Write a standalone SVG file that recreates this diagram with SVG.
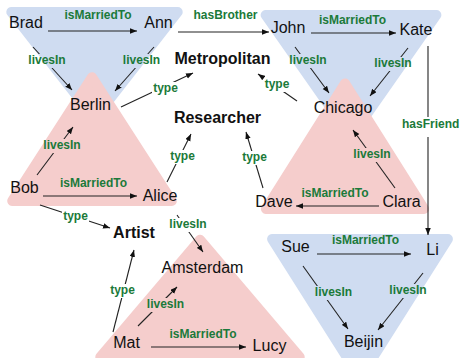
<svg xmlns="http://www.w3.org/2000/svg" width="460" height="358" viewBox="0 0 460 358">
<style>
.blue{fill:#cfdcf1;stroke:#cfdcf1;stroke-width:10;stroke-linejoin:round}
.red{fill:#f5cdcc;stroke:#f5cdcc;stroke-width:10;stroke-linejoin:round}
.node{font-family:"Liberation Sans",Arial,Helvetica,sans-serif;font-size:16px;fill:#111;text-anchor:middle}
.cls{font-family:"Liberation Sans",Arial,Helvetica,sans-serif;font-size:16px;font-weight:bold;fill:#111;text-anchor:middle}
.lbl{font-family:"Liberation Sans",Arial,Helvetica,sans-serif;font-size:12px;font-weight:bold;fill:#1b7a3a;text-anchor:middle}
.edge{stroke:#222;stroke-width:1.1;fill:none;marker-end:url(#arrow)}
</style>
<defs>
<marker id="arrow" markerUnits="userSpaceOnUse" markerWidth="8" markerHeight="6" refX="7" refY="2.75" orient="auto">
<path d="M0,0 L7,2.75 L0,5.5 z" fill="#111"/>
</marker>
<mask id="labelGaps" maskUnits="userSpaceOnUse" x="0" y="0" width="460" height="358">
<rect x="0" y="0" width="460" height="358" fill="#fff"/>
<g fill="#000">
<rect x="27" y="54" width="40" height="14"/>
<rect x="122" y="54" width="39" height="14"/>
<rect x="152" y="82" width="27" height="14"/>
<rect x="288" y="54" width="40" height="14"/>
<rect x="373" y="57" width="40" height="14"/>
<rect x="264" y="78" width="26" height="14"/>
<rect x="401" y="117" width="62" height="20"/>
<rect x="42" y="139" width="40" height="14"/>
<rect x="62" y="210" width="27" height="14"/>
<rect x="168" y="218" width="40" height="14"/>
<rect x="169" y="150" width="27" height="14"/>
<rect x="241" y="151" width="27" height="14"/>
<rect x="352" y="148" width="40" height="14"/>
<rect x="109" y="284" width="27" height="14"/>
<rect x="146" y="298" width="39" height="14"/>
<rect x="314" y="286" width="39" height="14"/>
<rect x="388" y="284" width="40" height="14"/>
</g>
</mask>
</defs>
<rect width="460" height="358" fill="#fff"/>
<g id="regions">
<polygon id="region-blue-tl" class="blue" points="11.3,12 177.7,12 94.5,118.7"/>
<polygon id="region-blue-tr" class="blue" points="265.6,15 436.4,15 351,137"/>
<polygon id="region-blue-br" class="blue" points="272.1,239 447.9,239 360,378"/>
<polygon id="region-red-tl" class="red" points="92,77.2 12.2,201 171.8,201"/>
<polygon id="region-red-tr" class="red" points="345,83.4 265.9,209 424.1,209"/>
<polygon id="region-red-b" class="red" points="200,239.7 100.3,357 299.7,357"/>
</g>
<g id="connectors" mask="url(#labelGaps)">
<line class="edge" x1="48" y1="31" x2="137" y2="31"/>
<line class="edge" x1="178" y1="32" x2="269" y2="32"/>
<line class="edge" x1="311" y1="33" x2="396" y2="33"/>
<line class="edge" x1="33" y1="47" x2="72" y2="90"/>
<line class="edge" x1="154" y1="47" x2="115" y2="91"/>
<line class="edge" x1="121" y1="107" x2="193" y2="73"/>
<line class="edge" x1="295" y1="47" x2="329" y2="93"/>
<line class="edge" x1="408" y1="48" x2="370" y2="96"/>
<line class="edge" x1="297" y1="101" x2="258" y2="74"/>
<line class="edge" x1="428" y1="46" x2="428" y2="235"/>
<line class="edge" x1="37" y1="175" x2="73" y2="127"/>
<line class="edge" x1="43" y1="196" x2="137" y2="196"/>
<line class="edge" x1="40" y1="205" x2="110" y2="228"/>
<line class="edge" x1="167" y1="182" x2="191" y2="134"/>
<line class="edge" x1="177" y1="215" x2="203" y2="252"/>
<line class="edge" x1="263" y1="188" x2="246" y2="132"/>
<line class="edge" x1="395" y1="188" x2="353" y2="130"/>
<line class="edge" x1="379" y1="206" x2="296" y2="206"/>
<line class="edge" x1="113" y1="332" x2="134" y2="250"/>
<line class="edge" x1="138" y1="326" x2="177" y2="287"/>
<line class="edge" x1="151" y1="347" x2="246" y2="347"/>
<line class="edge" x1="317" y1="254" x2="411" y2="254"/>
<line class="edge" x1="303" y1="266" x2="348" y2="329"/>
<line class="edge" x1="423" y1="273" x2="378" y2="330"/>
</g>
<g id="edge-labels">
<text class="lbl" x="98" y="19">isMarriedTo</text>
<text class="lbl" x="225.5" y="19">hasBrother</text>
<text class="lbl" x="352.5" y="24">isMarriedTo</text>
<text class="lbl" x="47" y="64">livesIn</text>
<text class="lbl" x="141.5" y="64">livesIn</text>
<text class="lbl" x="165.5" y="92">type</text>
<text class="lbl" x="308" y="64">livesIn</text>
<text class="lbl" x="393" y="67">livesIn</text>
<text class="lbl" x="277" y="88">type</text>
<text class="lbl" x="402" y="128" style="text-anchor:start">hasFriend</text>
<text class="lbl" x="62" y="149">livesIn</text>
<text class="lbl" x="93.5" y="187">isMarriedTo</text>
<text class="lbl" x="75.5" y="220">type</text>
<text class="lbl" x="188" y="228">livesIn</text>
<text class="lbl" x="182.5" y="160">type</text>
<text class="lbl" x="254.5" y="161">type</text>
<text class="lbl" x="372" y="158">livesIn</text>
<text class="lbl" x="335" y="197">isMarriedTo</text>
<text class="lbl" x="122.5" y="294">type</text>
<text class="lbl" x="165.5" y="308">livesIn</text>
<text class="lbl" x="203" y="338">isMarriedTo</text>
<text class="lbl" x="365.5" y="244">isMarriedTo</text>
<text class="lbl" x="333.5" y="296">livesIn</text>
<text class="lbl" x="408" y="294">livesIn</text>
</g>
<g id="node-brad"><text class="node" x="26" y="28">Brad</text></g>
<g id="node-ann"><text class="node" x="158.5" y="28">Ann</text></g>
<g id="node-john"><text class="node" x="288" y="33">John</text></g>
<g id="node-kate"><text class="node" x="416" y="35">Kate</text></g>
<g id="node-metropolitan"><text class="cls" x="222.5" y="64">Metropolitan</text></g>
<g id="node-researcher"><text class="cls" x="217.5" y="123">Researcher</text></g>
<g id="node-artist"><text class="cls" x="134" y="238">Artist</text></g>
<g id="node-berlin"><text class="node" x="90.5" y="110">Berlin</text></g>
<g id="node-chicago"><text class="node" x="343" y="113">Chicago</text></g>
<g id="node-bob"><text class="node" x="24.5" y="193">Bob</text></g>
<g id="node-alice"><text class="node" x="160" y="201">Alice</text></g>
<g id="node-dave"><text class="node" x="274" y="207">Dave</text></g>
<g id="node-clara"><text class="node" x="401.5" y="207">Clara</text></g>
<g id="node-amsterdam"><text class="node" x="202.5" y="273">Amsterdam</text></g>
<g id="node-mat"><text class="node" x="126.5" y="348">Mat</text></g>
<g id="node-lucy"><text class="node" x="269.5" y="351">Lucy</text></g>
<g id="node-sue"><text class="node" x="295.5" y="252">Sue</text></g>
<g id="node-li"><text class="node" x="432.5" y="255">Li</text></g>
<g id="node-beijin"><text class="node" x="363.5" y="347">Beijin</text></g>
</svg>
